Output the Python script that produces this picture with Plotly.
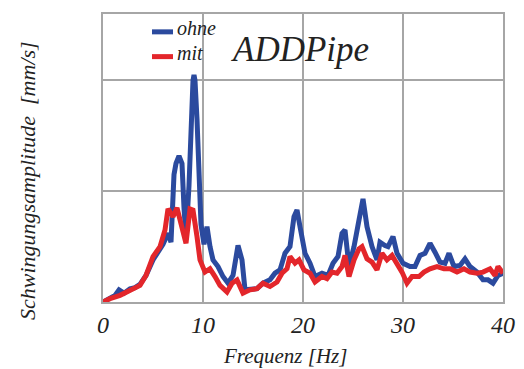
import plotly.graph_objects as go

# Frequency [Hz] and amplitude [mm/s] – "ohne" (without ADDPipe)
freq_ohne = [0, 0.7, 1.2, 1.6, 2.1, 2.7, 3.2, 3.7, 4.3, 5.0, 5.5, 6.0, 6.5, 6.8, 7.1, 7.3, 7.6, 7.9,
             8.1, 8.3, 8.6, 8.8, 9.0, 9.1, 9.2, 9.4, 9.6, 9.8, 10.1, 10.4, 10.7, 11.0, 11.5, 12.0,
             12.5, 13.0, 13.5, 13.9, 14.2, 14.7, 15.4, 16.0, 16.7, 17.2, 17.7, 18.2, 18.7, 19.1,
             19.4, 19.7, 20.2, 20.7, 21.2, 21.9, 22.5, 23.0, 23.5, 23.9, 24.2, 24.6, 25.1, 25.6,
             26.0, 26.4, 26.9, 27.4, 27.7, 28.2, 28.5, 29.0, 29.4, 30.0, 30.7, 31.2, 31.7, 32.2,
             32.7, 33.2, 33.7, 34.2, 34.6, 35.1, 35.7, 36.2, 36.7, 37.4, 38.0, 38.5, 39.0, 39.5, 40.0]
amp_ohne = [0.0, 0.04, 0.06, 0.11, 0.08, 0.12, 0.13, 0.16, 0.24, 0.38, 0.45, 0.52, 0.62, 0.54, 1.15,
            1.25, 1.32, 1.25, 0.85, 0.58, 1.05, 1.6, 2.0, 2.05, 2.0, 1.65, 1.2, 0.7, 0.52, 0.68,
            0.5, 0.38, 0.32, 0.23, 0.17, 0.24, 0.51, 0.38, 0.11, 0.11, 0.12, 0.17, 0.20, 0.26,
            0.29, 0.44, 0.50, 0.77, 0.83, 0.68, 0.44, 0.35, 0.23, 0.26, 0.24, 0.35, 0.41, 0.62,
            0.65, 0.32, 0.50, 0.74, 0.93, 0.68, 0.50, 0.38, 0.54, 0.51, 0.50, 0.59, 0.44, 0.35,
            0.32, 0.32, 0.42, 0.44, 0.53, 0.45, 0.36, 0.35, 0.44, 0.32, 0.33, 0.39, 0.32, 0.27,
            0.20, 0.20, 0.17, 0.24, 0.26]

# "mit" (with ADDPipe)
freq_mit = [0, 0.7, 1.7, 2.7, 3.7, 4.3, 5.0, 5.7, 6.2, 6.5, 7.0, 7.4, 7.9, 8.3, 8.7, 9.0, 9.4, 9.7,
            10.2, 10.7, 11.2, 11.7, 12.4, 12.9, 13.4, 13.7, 14.0, 14.7, 15.4, 16.0, 16.7, 17.4,
            17.9, 18.4, 18.7, 19.2, 19.6, 20.1, 20.7, 21.2, 21.9, 22.4, 22.9, 23.4, 23.9, 24.2,
            24.6, 25.1, 25.6, 25.9, 26.4, 26.9, 27.4, 27.9, 28.4, 28.9, 29.4, 29.9, 30.4, 30.9,
            31.6, 32.1, 32.7, 33.4, 34.1, 34.7, 35.4, 36.1, 36.7, 37.4, 38.0, 38.7, 39.2, 39.5, 40.0]
amp_mit = [0.0, 0.03, 0.06, 0.10, 0.15, 0.24, 0.41, 0.50, 0.65, 0.84, 0.77, 0.85, 0.65, 0.53, 0.84,
           0.83, 0.59, 0.38, 0.27, 0.30, 0.23, 0.15, 0.09, 0.17, 0.20, 0.14, 0.08, 0.11, 0.12,
           0.17, 0.14, 0.18, 0.26, 0.30, 0.41, 0.35, 0.38, 0.29, 0.26, 0.18, 0.23, 0.21, 0.27,
           0.26, 0.32, 0.42, 0.23, 0.38, 0.48, 0.50, 0.39, 0.36, 0.29, 0.44, 0.38, 0.42, 0.35,
           0.27, 0.17, 0.23, 0.23, 0.27, 0.30, 0.32, 0.30, 0.30, 0.27, 0.30, 0.27, 0.26, 0.27,
           0.30, 0.24, 0.32, 0.26]

x_ticks = [0, 10, 20, 30, 40]
x_tick_labels = ["0", "10", "20", "30", "40"]
series_names = ["ohne", "mit"]

BLUE = "#2B4A9E"
RED = "#E3262B"
GRID = "#A6A6A6"
TXT = "#222222"
FONT = "Liberation Serif"
LW = 5

fig = go.Figure()
fig.add_trace(go.Scatter(x=freq_ohne, y=amp_ohne, mode="lines", name=series_names[0],
                         line=dict(color=BLUE, width=LW), showlegend=False))
fig.add_trace(go.Scatter(x=freq_mit, y=amp_mit, mode="lines", name=series_names[1],
                         line=dict(color=RED, width=LW), showlegend=False))

# custom compact legend (short line samples next to italic labels)
legend_rows = [(series_names[0], BLUE, 0.938, 0.950), (series_names[1], RED, 0.852, 0.866)]
shapes = []
annotations = []
for name, col, ly, ty in legend_rows:
    shapes.append(dict(type="line", xref="paper", yref="paper", x0=0.1225, x1=0.175,
                       y0=ly, y1=ly, line=dict(color=col, width=LW)))
    annotations.append(dict(text=name, xref="paper", yref="paper", x=0.18, y=ty,
                            xanchor="left", yanchor="middle", showarrow=False,
                            font=dict(family=FONT, size=20, style="italic", color=TXT)))

annotations += [
    dict(text="ADDPipe", xref="paper", yref="paper", x=0.315, y=0.878,
         xanchor="left", yanchor="middle", showarrow=False,
         font=dict(family=FONT, size=35, style="italic", color=TXT)),
    dict(text="Frequenz [Hz]", xref="paper", yref="paper", x=0.455, y=-0.186,
         xanchor="center", yanchor="middle", showarrow=False,
         font=dict(family=FONT, size=21, style="italic", color=TXT)),
    dict(text="Schwingungsamplitude  [mm/s]", xref="paper", yref="paper",
         x=-0.19, y=0.42, xanchor="center", yanchor="middle", textangle=-90,
         showarrow=False,
         font=dict(family=FONT, size=22, style="italic", color=TXT)),
]

fig.update_layout(
    width=516, height=361,
    margin=dict(l=95, r=21, t=4, b=67),
    paper_bgcolor="white", plot_bgcolor="white",
    font=dict(family=FONT, color=TXT),
    showlegend=False,
    xaxis=dict(range=[0, 40], tickvals=x_ticks, ticktext=x_tick_labels,
               showgrid=True, gridcolor=GRID, gridwidth=1.5,
               showline=True, linecolor=GRID, linewidth=1.5, mirror=True,
               ticks="", zeroline=False,
               tickfont=dict(family=FONT, size=24, style="italic", color=TXT)),
    yaxis=dict(range=[0, 2.6], tickvals=[0, 1, 2], showticklabels=False,
               showgrid=True, gridcolor=GRID, gridwidth=1.5,
               showline=True, linecolor=GRID, linewidth=1.5, mirror=True,
               ticks="", zeroline=False),
    shapes=shapes,
    annotations=annotations,
)

fig.write_html("out.html")
